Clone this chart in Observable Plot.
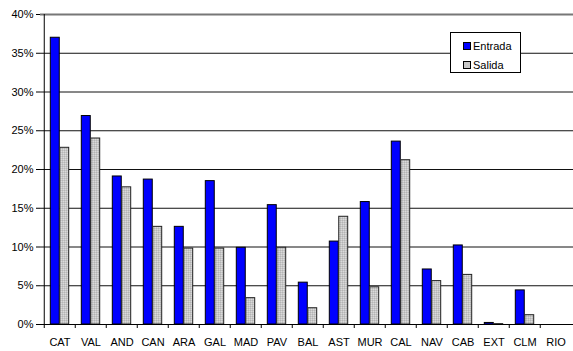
<!DOCTYPE html>
<html>
<head>
<meta charset="utf-8">
<script src="https://cdn.jsdelivr.net/npm/d3@7"></script>
<script src="https://cdn.jsdelivr.net/npm/@observablehq/plot@0.6"></script>
<style>
  html, body { margin: 0; padding: 0; background: #fff; }
  #chart { position: relative; width: 573px; height: 351px; overflow: hidden; }
  #chart svg { display: block; }
  .legend {
    position: absolute; left: 450px; top: 32px; width: 69px; height: 39px;
    background: #fff; border: 1px solid #000;
    font: 11px "Liberation Sans", Arial, sans-serif; color: #000;
  }
  .legend .row { position: absolute; left: 12px; display: flex; align-items: center; height: 14px; }
  .legend .sw { width: 6px; height: 6px; border: 1px solid #000; margin-right: 2px; }
</style>
</head>
<body>
<div id="chart"></div>
<script>
// Regions (autonomous communities) along the x axis
const categories = ["CAT", "VAL", "AND", "CAN", "ARA", "GAL", "MAD", "PAV", "BAL",
                    "AST", "MUR", "CAL", "NAV", "CAB", "EXT", "CLM", "RIO"];
// Share (%) of each region, per series
const entrada = [37.0, 26.9, 19.1, 18.7, 12.6, 18.5, 9.9, 15.4, 5.4,
                 10.7, 15.8, 23.6, 7.1, 10.2, 0.2, 4.4, 0];
const salida  = [22.8, 24.0, 17.7, 12.6, 9.8, 9.8, 3.4, 9.9, 2.1,
                 13.9, 4.8, 21.2, 5.6, 6.4, 0.05, 1.2, 0];
const seriesNames = ["Entrada", "Salida"];
const yTicks = [0, 5, 10, 15, 20, 25, 30, 35, 40];

const rowsEntrada = categories.map((c, i) => ({cat: c, value: entrada[i]}));
const rowsSalida = categories.map((c, i) => ({cat: c, value: salida[i]}));

const bandStart = 40;
const band = 31.48;
const inset = 6.3;
const half = band / 2;
const font = '"Liberation Sans", Arial, sans-serif';

const svg = Plot.plot({
  width: 573,
  height: 351,
  marginLeft: 40,
  marginRight: 0,
  marginTop: 14,
  marginBottom: 27,
  style: {fontFamily: font, fontSize: "11px", color: "#000", background: "#fff"},
  x: {type: "band", domain: categories, range: [bandStart, bandStart + band * categories.length], padding: 0},
  y: {domain: [0, 40]},
  marks: [
    // horizontal gridlines
    Plot.ruleY(yTicks.filter(d => d > 0 && d < 40), {stroke: "#111", strokeWidth: 1}),
    Plot.ruleY([40], {stroke: "#777", strokeWidth: 2}),
    // left axis line
    Plot.ruleX([categories[0]], {dx: -half, y1: 0, y2: 40, stroke: "#000"}),
    // y axis ticks and labels
    Plot.axisY({ticks: yTicks, tickSize: 4, tickPadding: 3, tickFormat: d => d + "%", label: null, stroke: "#000"}),
    // bars: Entrada on the left half of each band, Salida on the right half
    Plot.barY(rowsEntrada, {x: "cat", y: "value", fill: "#0000ff", stroke: "#000", strokeWidth: 1,
                            insetLeft: inset, insetRight: half}),
    Plot.barY(rowsSalida, {x: "cat", y: "value", fill: "url(#stipple)", stroke: "#222", strokeWidth: 1,
                           insetLeft: half, insetRight: inset}),
    // baseline
    Plot.ruleY([0], {stroke: "#000"}),
    // category boundary ticks below the baseline
    Plot.ruleX(categories, {x: d => d, dx: -half, y1: 0, y2: 0, insetBottom: -4, stroke: "#000"}),
    // category labels
    Plot.axisX({tickSize: 0, tickPadding: 14, label: null})
  ]
});

// stippled grey fill for the Salida series
const defs = d3.select(svg).insert("defs", ":first-child");
const pat = defs.append("pattern").attr("id", "stipple").attr("patternUnits", "userSpaceOnUse")
  .attr("width", 2).attr("height", 2);
pat.append("rect").attr("width", 2).attr("height", 2).attr("fill", "#c6c6c6");
pat.append("rect").attr("width", 1).attr("height", 1).attr("fill", "#b4b4b4");
pat.append("rect").attr("x", 1).attr("y", 1).attr("width", 1).attr("height", 1).attr("fill", "#dadada");

const chart = document.getElementById("chart");
chart.appendChild(svg);

// legend box
const legend = document.createElement("div");
legend.className = "legend";
const swatches = ["#0000ff", "#c6c6c6"];
seriesNames.forEach((name, i) => {
  const row = document.createElement("div");
  row.className = "row";
  row.style.top = (6 + i * 19) + "px";
  const sw = document.createElement("span");
  sw.className = "sw";
  sw.style.background = swatches[i];
  const label = document.createElement("span");
  label.textContent = name;
  row.appendChild(sw);
  row.appendChild(label);
  legend.appendChild(row);
});
chart.appendChild(legend);
</script>
</body>
</html>
